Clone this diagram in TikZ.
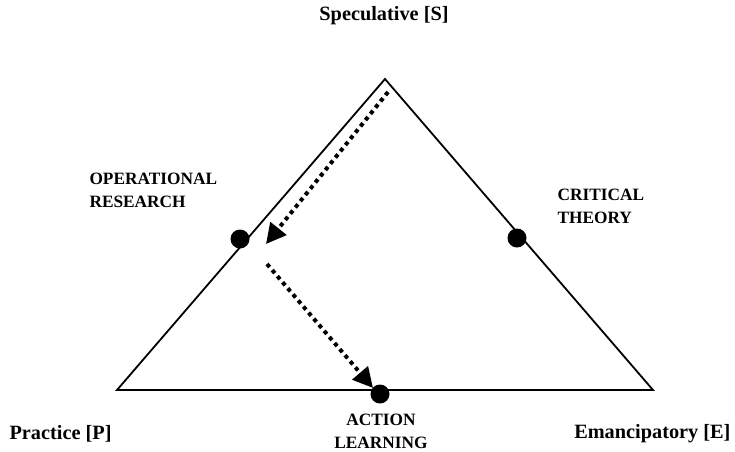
\documentclass[tikz,border=0pt]{standalone}
\usepackage{fontspec}
\setmainfont{Liberation Serif}
\usetikzlibrary{arrows.meta}
\begin{document}
\begin{tikzpicture}[x=1pt,y=-1pt,
  edge/.style={line width=1.8pt},
  dotarrow/.style={line width=4pt, dash pattern=on 4pt off 4pt, -{Triangle[length=20pt,width=20pt]}, shorten >=0pt},
  pt/.style={circle, fill=black, inner sep=0pt, minimum size=19pt},
  big/.style={font=\fontsize{20.3}{22}\selectfont\bfseries},
  caps/.style={font=\fontsize{17.3}{23}\selectfont\bfseries, align=left},
]
\useasboundingbox (0,0) rectangle (735,451);
\coordinate (S) at (385,79);
\coordinate (P) at (117,390);
\coordinate (E) at (653,390);
\draw[edge, line join=miter] (S) -- (E) -- (P) -- cycle;
\node[pt] (or) at (240,239) {};
\node[pt] (ct) at (517,238) {};
\node[pt] (al) at (380,394) {};
\coordinate (a1s) at (388,92);
\coordinate (a1e) at (266,244);
\coordinate (a2s) at (267,264);
\coordinate (a2e) at (373,388);
\draw[dotarrow] (a1s) -- (a1e);
\draw[dotarrow] (a2s) -- (a2e);
\node[big] (ls) at (384,16) {Speculative [S]};
\node[big, anchor=west] (lp) at (6,434) {Practice [P]};
\node[big, anchor=east] (le) at (734,434) {Emancipatory [E]};
\node[caps, anchor=north west] (lor) at (86,170) {OPERATIONAL\\RESEARCH};
\node[caps, anchor=north west] (lct) at (554,186) {CRITICAL\\THEORY};
\node[caps, align=center, anchor=north, inner ysep=0pt] (lal) at (381,414) {ACTION\\LEARNING};
\end{tikzpicture}
\end{document}
